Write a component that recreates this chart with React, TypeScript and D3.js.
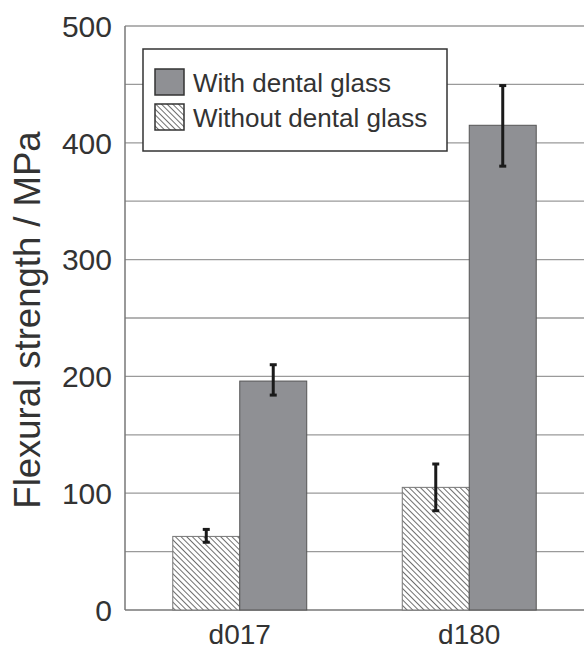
import React from "react";
import * as d3 from "d3";

// 数据
const categories = ["d017", "d180"];
const series = ["Without dental glass", "With dental glass"];
const withoutVals = [63, 105];
const withoutErr = [[58, 69], [85, 125]];
const withVals = [196, 415];
const withErr = [[184, 210], [380, 449]];
const yTicks = [0, 100, 200, 300, 400, 500];

const App: React.FC = () => {
  const width = 584;
  const height = 650;
  const marginLeft = 125;
  const marginRight = 0;
  const marginTop = 26;
  const marginBottom = 40;

  const x = d3
    .scaleBand()
    .domain(categories)
    .range([marginLeft, width - marginRight])
    .paddingInner(0)
    .paddingOuter(0);

  const xs = d3
    .scaleBand()
    .domain(series)
    .range([0, x.bandwidth()])
    .paddingInner(0)
    .paddingOuter(0.7131);

  const y = d3
    .scaleLinear()
    .domain([0, 500])
    .range([height - marginBottom, marginTop]);

  const grid = d3.range(50, 501, 50);
  const font = "'Liberation Sans', Arial, sans-serif";
  const ink = "#333";

  const bars: { cat: string; s: string; v: number; e: number[]; i: number }[] = [];
  categories.forEach((c, i) => {
    bars.push({ cat: c, s: series[0], v: withoutVals[i], e: withoutErr[i], i: 0 });
    bars.push({ cat: c, s: series[1], v: withVals[i], e: withErr[i], i: 1 });
  });

  return (
    <svg width={width} height={height} style={{ position: "absolute", left: 0, top: 0 }}>
      <defs>
        <pattern id="hatch" width="4" height="4" patternUnits="userSpaceOnUse" patternTransform="rotate(-45)">
          <rect width="4" height="4" fill="#fff" />
          <line x1="0" y1="0" x2="0" y2="4" stroke="#6f6f6f" strokeWidth="2" />
        </pattern>
      </defs>
      <rect width={width} height={height} fill="#fff" />
      {/* gridlines */}
      {grid.map((g) => (
        <line key={g} x1={marginLeft} x2={width} y1={y(g)} y2={y(g)} stroke="#9a9a9a" strokeWidth={1.3} />
      ))}
      {/* axes */}
      <line x1={marginLeft} x2={marginLeft} y1={y(500)} y2={y(0)} stroke="#777" strokeWidth={1.5} />
      <line x1={marginLeft} x2={width} y1={y(0)} y2={y(0)} stroke="#777" strokeWidth={1.5} />
      {yTicks.map((t) => (
        <text key={t} x={112} y={y(t)} dy="0.36em" textAnchor="end" fontFamily={font} fontSize={30} fill={ink}>
          {t}
        </text>
      ))}
      {categories.map((c) => (
        <text key={c} x={(x(c) as number) + x.bandwidth() / 2} y={644} textAnchor="middle" fontFamily={font} fontSize={28} fill={ink}>
          {c}
        </text>
      ))}
      <text
        transform={`translate(40,${(y(0) + y(500)) / 2 + 2}) rotate(-90)`}
        textAnchor="middle"
        fontFamily={font}
        fontSize={36.5}
        fill={ink}
      >
        Flexural strength / MPa
      </text>
      {/* bars */}
      {bars.map((b, k) => {
        const bx = (x(b.cat) as number) + (xs(b.s) as number);
        const bw = xs.bandwidth();
        return (
          <g key={k}>
            <rect
              x={bx}
              y={y(b.v)}
              width={bw}
              height={y(0) - y(b.v)}
              fill={b.i === 0 ? "url(#hatch)" : "#8f9094"}
              stroke={b.i === 0 ? "#777" : "#555"}
              strokeWidth={1}
            />
            <line x1={bx + bw / 2} x2={bx + bw / 2} y1={y(b.e[0])} y2={y(b.e[1])} stroke="#1a1a1a" strokeWidth={3} />
            <line x1={bx + bw / 2 - 3.5} x2={bx + bw / 2 + 3.5} y1={y(b.e[0])} y2={y(b.e[0])} stroke="#1a1a1a" strokeWidth={3} />
            <line x1={bx + bw / 2 - 3.5} x2={bx + bw / 2 + 3.5} y1={y(b.e[1])} y2={y(b.e[1])} stroke="#1a1a1a" strokeWidth={3} />
          </g>
        );
      })}
      {/* legend */}
      <g>
        <rect x={143} y={49} width={304} height={102} fill="#fff" stroke="#333" strokeWidth={1.5} />
        <rect x={155} y={69} width={29} height={26} fill="#8f9094" stroke="#333" strokeWidth={1.5} />
        <text x={193} y={92} fontFamily={font} fontSize={26} fill={ink}>
          {series[1]}
        </text>
        <rect x={155} y={104} width={29} height={26} fill="url(#hatch)" stroke="#333" strokeWidth={1.5} />
        <text x={193} y={127} fontFamily={font} fontSize={26} fill={ink}>
          {series[0]}
        </text>
      </g>
    </svg>
  );
};

export default App;
